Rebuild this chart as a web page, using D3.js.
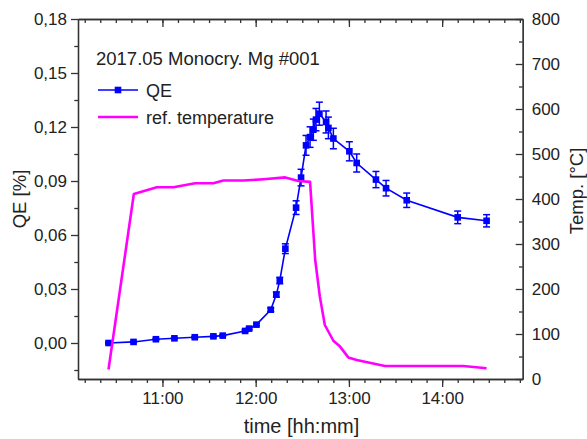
<!DOCTYPE html>
<html>
<head>
<meta charset="utf-8">
<script src="https://cdn.jsdelivr.net/npm/d3@7"></script>
<style>
  body { margin: 0; background: #fff; }
  svg { display: block; font-family: "Liberation Sans", Arial, sans-serif; }
  .axis text { fill: #222; font-size: 17px; }
  .axis path, .axis line { stroke: #333; stroke-width: 1.3; }
</style>
</head>
<body>
<div id="chart"></div>
<script>
// QE measurement (time, QE in %, error bar half-width)
var qeTimes = ["10:25:18", "10:41:24", "10:55:48", "11:07:42", "11:20:48", "11:32:48", "11:38:48",
  "11:53:12", "11:55:48", "12:00:30", "12:09:42", "12:13:18", "12:15:30", "12:19:06", "12:26:00",
  "12:29:12", "12:32:24", "12:35:00", "12:37:06", "12:38:48", "12:41:00", "12:45:18", "12:46:48",
  "12:50:00", "13:00:18", "13:05:00", "13:17:24", "13:23:54", "13:37:12", "14:10:00", "14:28:36"];
var qeValues = [0.0000, 0.0006, 0.0021, 0.0026, 0.0032, 0.0037, 0.0041,
  0.0067, 0.0080, 0.0102, 0.0185, 0.0269, 0.0347, 0.0524, 0.0752,
  0.0919, 0.1098, 0.1144, 0.1185, 0.1241, 0.1274, 0.1228, 0.1195,
  0.1136, 0.1065, 0.1000, 0.0908, 0.0860, 0.0793, 0.0698, 0.0679];
var qeErrors = [0.0004, 0.0004, 0.0004, 0.0004, 0.0004, 0.0004, 0.0005,
  0.0005, 0.0006, 0.0007, 0.0010, 0.0014, 0.0018, 0.0027, 0.0038,
  0.0046, 0.0055, 0.0057, 0.0059, 0.0062, 0.0064, 0.0061, 0.0060,
  0.0057, 0.0053, 0.0050, 0.0045, 0.0043, 0.0040, 0.0035, 0.0034];

// reference temperature (°C)
var tempTimes = ["10:25:18", "10:41:36", "10:56:24", "11:07:06", "11:21:00", "11:32:48", "11:39:12",
  "11:52:00", "12:05:00", "12:19:00", "12:27:30", "12:35:00", "12:38:18", "12:41:18", "12:44:30",
  "12:50:00", "12:54:18", "12:59:36", "13:05:00", "13:23:12", "14:13:36", "14:28:36"];
var tempValues = [21, 411, 426, 426, 435, 435, 441,
  441, 444, 448, 440, 438, 265, 183, 120,
  85, 72, 48, 42, 29, 29, 24];

var hourTicks = ["11:00", "12:00", "13:00", "14:00"];
var qeTicks = [0, 0.03, 0.06, 0.09, 0.12, 0.15, 0.18];
var tempTicks = [0, 100, 200, 300, 400, 500, 600, 700, 800];

var title = "2017.05 Monocry. Mg #001";
var seriesNames = ["QE", "ref. temperature"];

var W = 587, H = 439;
// plot frame (window.top is reserved, so use other names)
var plotL = 78, plotR = 522.7, plotT = 19, plotB = 379;

var parseT = d3.timeParse("%H:%M:%S");
var parseHM = d3.timeParse("%H:%M");
var commaFmt = d3.formatLocale({decimal: ",", thousands: ".", grouping: [3], currency: ["", ""]}).format(".2f");

var x = d3.scaleTime()
  .domain([parseT("10:05:40"), parseT("14:51:50")])
  .range([plotL, plotR]);
var yQE = d3.scaleLinear().domain([-0.02, 0.18]).range([plotB, plotT]);
var yT = d3.scaleLinear().domain([0, 800]).range([plotB, plotT]);

var minorTimes = d3.timeMinute.every(10).range(x.domain()[0], x.domain()[1]);

var svg = d3.select("#chart").append("svg")
  .attr("width", W)
  .attr("height", H);

// minor ticks first, then major axes on top
svg.append("g").attr("class", "axis")
  .attr("transform", "translate(0," + plotB + ")")
  .call(d3.axisBottom(x).tickValues(minorTimes).tickSize(4).tickSizeOuter(0).tickFormat(""));
svg.append("g").attr("class", "axis")
  .attr("transform", "translate(0," + plotB + ")")
  .call(d3.axisBottom(x).tickValues(hourTicks.map(parseHM)).tickSize(8).tickSizeOuter(0)
    .tickPadding(5).tickFormat(d3.timeFormat("%H:%M")));

svg.append("g").attr("class", "axis")
  .attr("transform", "translate(0," + plotT + ")")
  .call(d3.axisTop(x).tickValues(minorTimes).tickSize(-4).tickSizeOuter(0).tickFormat(""));
svg.append("g").attr("class", "axis")
  .attr("transform", "translate(0," + plotT + ")")
  .call(d3.axisTop(x).tickValues(hourTicks.map(parseHM)).tickSize(-8).tickSizeOuter(0).tickFormat(""));

svg.append("g").attr("class", "axis")
  .attr("transform", "translate(" + plotL + ",0)")
  .call(d3.axisLeft(yQE).tickValues(d3.range(-0.015, 0.18, 0.03)).tickSize(3.7).tickSizeOuter(0).tickFormat(""));
svg.append("g").attr("class", "axis")
  .attr("transform", "translate(" + plotL + ",0)")
  .call(d3.axisLeft(yQE).tickValues(qeTicks).tickSize(7).tickSizeOuter(0).tickPadding(4).tickFormat(commaFmt));

svg.append("g").attr("class", "axis")
  .attr("transform", "translate(" + plotR + ",0)")
  .call(d3.axisRight(yT).tickValues(d3.range(50, 800, 100)).tickSize(-3.7).tickSizeOuter(0).tickFormat(""));
svg.append("g").attr("class", "axis")
  .attr("transform", "translate(" + plotR + ",0)")
  .call(d3.axisRight(yT).tickValues(tempTicks).tickSize(-7).tickSizeOuter(0).tickPadding(9).tickFormat(d3.format("d")));

// axis titles
svg.append("text")
  .attr("x", 301.5).attr("y", 433)
  .attr("text-anchor", "middle")
  .attr("font-size", 20).attr("fill", "#222")
  .text("time [hh:mm]");
svg.append("text")
  .attr("transform", "translate(26," + (plotT + plotB) / 2 + ") rotate(-90)")
  .attr("text-anchor", "middle")
  .attr("font-size", 18.5).attr("fill", "#222")
  .text("QE [%]");
svg.append("text")
  .attr("transform", "translate(583,191) rotate(-90)")
  .attr("text-anchor", "middle")
  .attr("font-size", 18.5).attr("fill", "#222")
  .text("Temp. [°C]");

var qeData = qeTimes.map(function (t, i) {
  return {t: parseT(t), v: qeValues[i], e: qeErrors[i]};
});
var tempData = tempTimes.map(function (t, i) {
  return {t: parseT(t), v: tempValues[i]};
});

// QE series
svg.append("path")
  .datum(qeData)
  .attr("fill", "none")
  .attr("stroke", "#0000ff")
  .attr("stroke-width", 1.6)
  .attr("d", d3.line().x(function (d) { return x(d.t); }).y(function (d) { return yQE(d.v); }));

var eb = svg.append("g").attr("stroke", "#0000ff").attr("stroke-width", 1.5);
qeData.forEach(function (d) {
  var cx = x(d.t), y1 = yQE(d.v + d.e), y2 = yQE(d.v - d.e);
  eb.append("line").attr("x1", cx).attr("x2", cx).attr("y1", y1).attr("y2", y2);
  eb.append("line").attr("x1", cx - 3.5).attr("x2", cx + 3.5).attr("y1", y1).attr("y2", y1);
  eb.append("line").attr("x1", cx - 3.5).attr("x2", cx + 3.5).attr("y1", y2).attr("y2", y2);
});

svg.append("g").selectAll("rect")
  .data(qeData)
  .join("rect")
  .attr("x", function (d) { return x(d.t) - 3.3; })
  .attr("y", function (d) { return yQE(d.v) - 3.3; })
  .attr("width", 6.6)
  .attr("height", 6.6)
  .attr("fill", "#0000ff");

// temperature series
svg.append("path")
  .datum(tempData)
  .attr("fill", "none")
  .attr("stroke", "#ff00ff")
  .attr("stroke-width", 2.6)
  .attr("stroke-linejoin", "round")
  .attr("d", d3.line().x(function (d) { return x(d.t); }).y(function (d) { return yT(d.v); }));

// title + legend
svg.append("text")
  .attr("x", 96).attr("y", 65)
  .attr("font-size", 18.5).attr("fill", "#222")
  .text(title);

var lg = svg.append("g");
lg.append("line").attr("x1", 98).attr("x2", 138).attr("y1", 90).attr("y2", 90)
  .attr("stroke", "#0000ff").attr("stroke-width", 1.6);
lg.append("rect").attr("x", 118 - 3.3).attr("y", 90 - 3.3).attr("width", 6.6).attr("height", 6.6)
  .attr("fill", "#0000ff");
lg.append("text").attr("x", 146).attr("y", 96.5).attr("font-size", 18).attr("fill", "#222")
  .text(seriesNames[0]);
lg.append("line").attr("x1", 98).attr("x2", 138).attr("y1", 117).attr("y2", 117)
  .attr("stroke", "#ff00ff").attr("stroke-width", 2.6);
lg.append("text").attr("x", 146).attr("y", 123.5).attr("font-size", 18).attr("fill", "#222")
  .text(seriesNames[1]);
</script>
</body>
</html>
